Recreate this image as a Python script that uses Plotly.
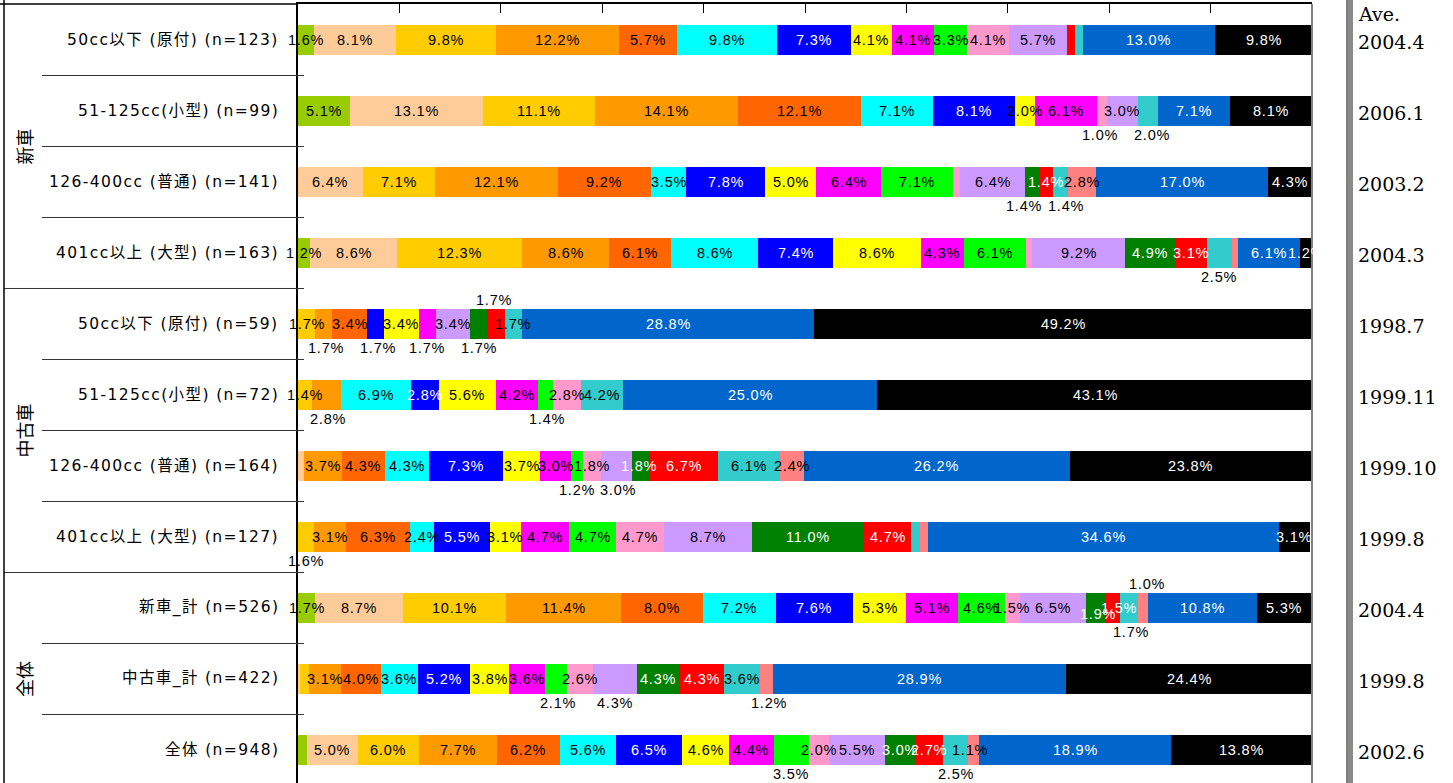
import plotly.graph_objects as go

# ---------------- data ----------------
categories = [
    "50cc以下 (原付) (n=123)",
    "51-125cc(小型) (n=99)",
    "126-400cc (普通) (n=141)",
    "401cc以上 (大型) (n=163)",
    "50cc以下 (原付) (n=59)",
    "51-125cc(小型) (n=72)",
    "126-400cc (普通) (n=164)",
    "401cc以上 (大型) (n=127)",
    "新車_計 (n=526)",
    "中古車_計 (n=422)",
    "全体 (n=948)",
]
groups = ["新車", "中古車", "全体"]
group_rows = [[0, 1, 2, 3], [4, 5, 6, 7], [8, 9, 10]]
averages = ["2004.4", "2006.1", "2003.2", "2004.3", "1998.7", "1999.11",
            "1999.10", "1999.8", "2004.4", "1999.8", "2002.6"]

series_names = [f"区分{i + 1:02d}" for i in range(18)]
series_colors = ["#99CC00", "#FFCC99", "#FFCC00", "#FF9900", "#FF6600", "#00FFFF",
                 "#0000FF", "#FFFF00", "#FF00FF", "#00FF00", "#FF99CC", "#CC99FF",
                 "#008000", "#FF0000", "#33CCCC", "#FF8080", "#0066CC", "#000000"]
white_text_series = {6, 12, 13, 16, 17}

# one list per row (values in %, 18 segments each)
new_50 = [1.6, 8.1, 9.8, 12.2, 5.7, 9.8, 7.3, 4.1, 4.1, 3.3, 4.1, 5.7, 0, 0.8, 0.8, 0, 13.0, 9.8]
new_125 = [5.1, 13.1, 11.1, 14.1, 12.1, 7.1, 8.1, 2.0, 6.1, 0, 1.0, 3.0, 0, 0, 2.0, 0, 7.1, 8.1]
new_400 = [0, 6.4, 7.1, 12.1, 9.2, 3.5, 7.8, 5.0, 6.4, 7.1, 0.7, 6.4, 1.4, 1.4, 1.4, 2.8, 17.0, 4.3]
new_401 = [1.2, 8.6, 12.3, 8.6, 6.1, 8.6, 7.4, 8.6, 4.3, 6.1, 0.6, 9.2, 4.9, 3.1, 2.5, 0.6, 6.1, 1.2]
used_50 = [0, 0, 1.7, 1.7, 3.4, 0, 1.7, 3.4, 1.7, 0, 0, 3.4, 1.7, 1.7, 1.7, 0, 28.8, 49.2]
used_125 = [0, 0, 1.4, 2.8, 0, 6.9, 2.8, 5.6, 4.2, 1.4, 2.8, 0, 0, 0, 4.2, 0, 25.0, 43.1]
used_400 = [0, 0.6, 0, 3.7, 4.3, 4.3, 7.3, 3.7, 3.0, 1.2, 1.8, 3.0, 1.8, 6.7, 6.1, 2.4, 26.2, 23.8]
used_401 = [0, 0, 1.6, 3.1, 6.3, 2.4, 5.5, 3.1, 4.7, 4.7, 4.7, 8.7, 11.0, 4.7, 0.8, 0.8, 34.6, 3.1]
new_total = [1.7, 8.7, 10.1, 11.4, 8.0, 7.2, 7.6, 5.3, 5.1, 4.6, 1.5, 6.5, 1.9, 1.5, 1.7, 1.0, 10.8, 5.3]
used_total = [0, 0.2, 0.9, 3.1, 4.0, 3.6, 5.2, 3.8, 3.6, 2.1, 2.6, 4.3, 4.3, 4.3, 3.6, 1.2, 28.9, 24.4]
all_total = [0.9, 5.0, 6.0, 7.7, 6.2, 5.6, 6.5, 4.6, 4.4, 3.5, 2.0, 5.5, 3.0, 2.7, 2.5, 1.1, 18.9, 13.8]

rows = [new_50, new_125, new_400, new_401, used_50, used_125, used_400, used_401,
        new_total, used_total, all_total]

# label placement overrides: (row, series) -> (position, horizontal shift px)
label_pos = {
    (1, 10): ("below", -2), (1, 14): ("below", 4),
    (2, 12): ("below", -8), (2, 14): ("below", 5),
    (3, 14): ("below", 0),
    (4, 3): ("below", 2), (4, 6): ("below", 2), (4, 8): ("below", 0), (4, 12): ("below", 0),
    (4, 13): ("above", -2),
    (5, 3): ("below", 2), (5, 9): ("below", 2),
    (6, 9): ("below", 0), (6, 11): ("below", 2), (6, 12): ("inside", -2),
    (7, 2): ("below", 0),
    (8, 12): ("nudge", 2), (8, 13): ("inside", 6), (8, 14): ("below", 2), (8, 15): ("above", 4),
    (9, 9): ("below", 2), (9, 11): ("below", 0), (9, 15): ("below", 3),
    (10, 9): ("below", 0), (10, 14): ("below", 0), (10, 15): ("inside", -4),
}
shift_px = {"below": -24, "above": 24, "nudge": -6, "inside": 0}

# ---------------- geometry ----------------
W, H = 1453, 783
PL, PR, PT = 298, 1312, 4
PW = PR - PL


def xp(px):
    return (px - PL) / PW


def spaced(t, ls):
    return f'<span style="letter-spacing:{ls}px">{t}</span>'


n_rows = len(categories)
y_idx = list(range(n_rows))
y_top = -0.507
y_bot = 10.465

fig = go.Figure()
for s in range(18):
    fig.add_trace(go.Bar(
        orientation="h",
        x=[rows[r][s] for r in range(n_rows)],
        y=y_idx,
        width=0.42,
        name=series_names[s],
        marker=dict(color=series_colors[s], line=dict(width=0)),
        hoverinfo="skip",
        showlegend=False,
    ))

LABEL_FONT = "Liberation Sans, Arial, Noto Sans CJK JP, sans-serif"
CAT_FONT = "DejaVu Sans, Noto Sans CJK JP, sans-serif"
annotations = []
# segment labels
for r in range(n_rows):
    cum = 0.0
    for s in range(18):
        v = rows[r][s]
        center = cum + v / 2
        cum += v
        if v < 1.0:
            continue
        pos, dx = label_pos.get((r, s), ("inside", 0))
        if pos in ("inside", "nudge") and s in white_text_series:
            col = "#FFFFFF"
        else:
            col = "#000000"
        annotations.append(dict(
            x=center, y=r, xref="x", yref="y", text=spaced(f"{v:.1f}%", 0.8),
            showarrow=False, yshift=shift_px[pos], xshift=dx,
            font=dict(family=LABEL_FONT, size=14.5, color=col),
            xanchor="center", yanchor="middle",
        ))

# category labels
for r, c in enumerate(categories):
    annotations.append(dict(
        x=xp(281), y=r, xref="paper", yref="y", text=spaced(c, 1.4), showarrow=False,
        xanchor="right", yanchor="middle",
        font=dict(family=CAT_FONT, size=15.5, color="#000000"),
    ))

# group labels (vertical)
for g, rr in zip(groups, group_rows):
    annotations.append(dict(
        x=xp(24), y=sum(rr) / len(rr), xref="paper", yref="y", text=g,
        showarrow=False, textangle=-90, xanchor="center", yanchor="middle",
        font=dict(family="Noto Sans CJK JP, sans-serif", size=18, color="#000000"),
    ))

# average column
SERIF = "DejaVu Serif, Liberation Serif, serif"
annotations.append(dict(
    x=xp(1356), y=-0.36, xref="paper", yref="y", text="Ave.", showarrow=False,
    xanchor="left", yanchor="middle", font=dict(family=SERIF, size=19, color="#000000"),
))
for r, a in enumerate(averages):
    annotations.append(dict(
        x=xp(1356), y=r + 0.03, xref="paper", yref="y", text=a, showarrow=False,
        xanchor="left", yanchor="middle", font=dict(family=SERIF, size=19, color="#000000"),
    ))

shapes = []
# separators in label area (also act as y ticks)
group_bounds = {3.5, 7.5}
for b in [i + 0.5 for i in range(n_rows - 1)]:
    x0 = xp(4) if b in group_bounds else xp(42)
    shapes.append(dict(type="line", xref="paper", yref="y", x0=x0, x1=xp(304),
                       y0=b, y1=b, line=dict(color="#333333", width=1)))
# top line over label area
shapes.append(dict(type="line", xref="paper", yref="paper", x0=xp(0), x1=0,
                   y0=1, y1=1, line=dict(color="#000000", width=1.5)))
# left outer border
shapes.append(dict(type="line", xref="paper", yref="paper", x0=xp(4), x1=xp(4),
                   y0=0, y1=1.01, line=dict(color="#000000", width=1.5)))
# right border of plot area
shapes.append(dict(type="line", xref="paper", yref="paper", x0=1, x1=1,
                   y0=0, y1=1, line=dict(color="#808080", width=2)))
# thick separator before Ave. column
shapes.append(dict(type="line", xref="paper", yref="paper", x0=xp(1347), x1=xp(1347),
                   y0=0, y1=1.01, line=dict(color="#000000", width=1)))
shapes.append(dict(type="line", xref="paper", yref="paper", x0=xp(1350.5), x1=xp(1350.5),
                   y0=0, y1=1.01, line=dict(color="#8a8a8a", width=5)))

fig.update_layout(
    width=W, height=H,
    margin=dict(l=PL, r=W - PR, t=PT, b=0, pad=0),
    barmode="stack",
    plot_bgcolor="#FFFFFF", paper_bgcolor="#FFFFFF",
    annotations=annotations,
    shapes=shapes,
    xaxis=dict(range=[0, 100], side="top", showline=True, linecolor="#000000",
               linewidth=1.5, ticks="inside", ticklen=9, tickcolor="#000000",
               dtick=10, tick0=0, showticklabels=False, showgrid=False,
               zeroline=False, fixedrange=True),
    yaxis=dict(range=[y_bot, y_top], showline=True, linecolor="#000000", linewidth=1.5,
               showticklabels=False, ticks="", showgrid=False, zeroline=False,
               fixedrange=True),
    bargap=0,
)

fig.write_html(
    "out.html",
    config={"displayModeBar": False},
    post_script="document.body.style.margin='0';document.body.style.padding='0';"
                "document.body.style.overflow='hidden';",
)
